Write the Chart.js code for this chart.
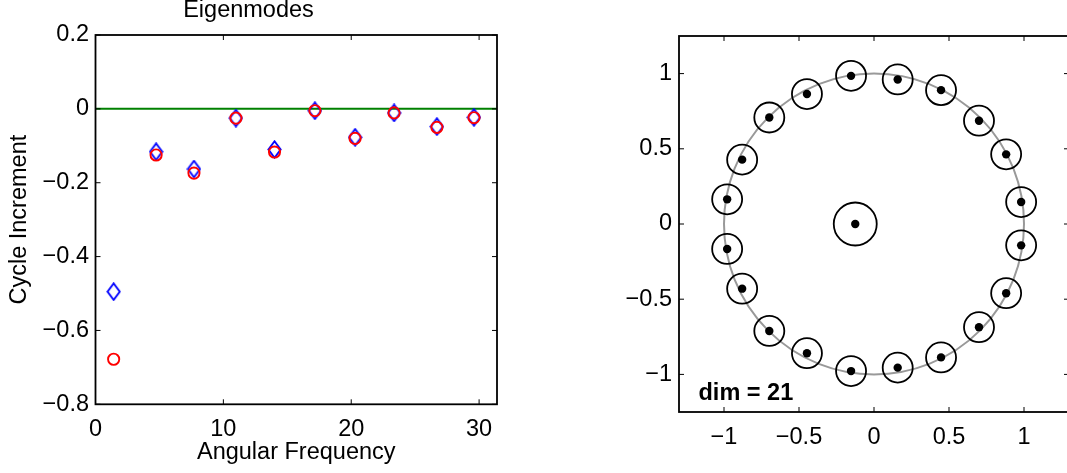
<!DOCTYPE html>
<html><head><meta charset="utf-8">
<script src="https://cdn.jsdelivr.net/npm/chart.js@4.4.0/dist/chart.umd.min.js"></script>
<style>
html,body{margin:0;padding:0;background:#fff;overflow:hidden;width:1067px;height:473px;position:relative;}
#c1{position:absolute;left:0;top:0;}
#c2{position:absolute;left:600px;top:0;}
</style></head><body>
<canvas id="c1" width="540" height="473"></canvas>
<canvas id="c2" width="470" height="473"></canvas>
<script>
// ---------- data ----------
const angularFrequency = [1.42, 4.74, 7.70, 10.98, 14.00, 17.16, 20.30, 23.35, 26.70, 29.60];
const cycleIncrementDiamond = [-0.495, -0.116, -0.163, -0.025, -0.110, -0.005, -0.077, -0.011, -0.048, -0.023];
const cycleIncrementCircle  = [-0.678, -0.125, -0.174, -0.025, -0.117, -0.005, -0.080, -0.011, -0.050, -0.024];
const leftXTicks = [0, 10, 20, 30];
const leftYTicks = [-0.8, -0.6, -0.4, -0.2, 0, 0.2];
const leftXRange = [0, 31.4];
const leftYRange = [-0.8, 0.2];

const eigReal = [-0.153, 0.158, 0.447, 0.700, 0.881, 0.981, 0.981, 0.881, 0.700, 0.447, 0.158, -0.153, -0.447, -0.698, -0.879, -0.979, -0.979, -0.879, -0.698, -0.447, -0.125];
const eigImag = [0.985, 0.961, 0.890, 0.687, 0.463, 0.146, -0.142, -0.460, -0.686, -0.887, -0.955, -0.978, -0.859, -0.711, -0.430, -0.166, 0.164, 0.428, 0.708, 0.864, 0.0];
const rightTicks = [-1, -0.5, 0, 0.5, 1];
const rightXRange = [-1.3, 1.3];
const rightYRange = [-1.25, 1.25];
const dimLabel = 'dim = 21';
const dimLabelPos = [-1.17, -1.17];

// ---------- helpers ----------
const FONT = "'Liberation Sans', Arial, Helvetica, sans-serif";
const FS = 23.5;
const fmt = v => (v < 0 ? '\u2212' : '') + String(Math.abs(Math.round(v * 1000) / 1000));
const fixTicks = arr => s => { s.ticks = arr.map(v => ({value: v})); };
const noPad = s => { s.paddingLeft = 0; s.paddingRight = 0; s.paddingTop = 0; s.paddingBottom = 0; };

const boxTicks = {
  id: 'boxTicks',
  afterDatasetsDraw(chart, args, opts) {
    const {ctx, chartArea: {left, right, top, bottom}, scales: {x, y}} = chart;
    const len = opts.len || 5;
    ctx.save();
    ctx.strokeStyle = '#000';
    ctx.lineWidth = 1;
    ctx.beginPath();
    x.ticks.forEach(t => {
      const px = x.getPixelForValue(t.value);
      ctx.moveTo(px, bottom); ctx.lineTo(px, bottom - len);
      ctx.moveTo(px, top); ctx.lineTo(px, top + len);
    });
    y.ticks.forEach(t => {
      const py = y.getPixelForValue(t.value);
      ctx.moveTo(left, py); ctx.lineTo(left + len, py);
      ctx.moveTo(right, py); ctx.lineTo(right - len, py);
    });
    ctx.stroke();
    ctx.lineWidth = 1.8;
    ctx.strokeRect(left, top, right - left, bottom - top);
    ctx.restore();
  }
};

function diamondImage() {
  const c = document.createElement('canvas');
  c.width = 15; c.height = 19;
  const g = c.getContext('2d');
  g.strokeStyle = '#0000ff'; g.lineWidth = 1.9;
  g.beginPath();
  g.moveTo(7.5, 1.3); g.lineTo(13.6, 9.5); g.lineTo(7.5, 17.7); g.lineTo(1.4, 9.5); g.closePath();
  g.stroke();
  return c;
}

function axisCfg(range, ticks, pad, opts) {
  return Object.assign({
    type: 'linear', min: range[0], max: range[1],
    afterBuildTicks: fixTicks(ticks),
    grid: {display: false, drawTicks: false},
    border: {display: false},
    ticks: {color: '#000', font: {family: FONT, size: FS}, callback: fmt, autoSkip: false, maxRotation: 0, padding: pad}
  }, opts);
}

// ---------- left chart ----------
new Chart(document.getElementById('c1'), {
  type: 'scatter',
  data: {
    datasets: [
      {
        label: 'circle',
        data: angularFrequency.map((x, i) => ({x, y: cycleIncrementCircle[i]})),
        pointStyle: 'circle', pointRadius: 5.6, borderWidth: 1.9,
        borderColor: '#ff0000', backgroundColor: 'rgba(0,0,0,0)'
      },
      {
        label: 'diamond',
        data: angularFrequency.map((x, i) => ({x, y: cycleIncrementDiamond[i]})),
        pointStyle: diamondImage(), pointRadius: 7,
        borderColor: '#0000ff', backgroundColor: 'rgba(0,0,0,0)'
      },
      {
        label: 'zero',
        type: 'line',
        data: [{x: leftXRange[0], y: 0}, {x: leftXRange[1], y: 0}],
        borderColor: '#008000', borderWidth: 2, pointRadius: 0, fill: false
      }
    ]
  },
  options: {
    responsive: false, animation: false, devicePixelRatio: 1,
    layout: {autoPadding: false, padding: {left: 0, right: 43, top: 0, bottom: 0}},
    plugins: {
      legend: {display: false}, tooltip: {enabled: false},
      title: {display: true, text: 'Eigenmodes', color: '#000',
        font: {family: FONT, size: FS, weight: 'normal', lineHeight: 1.2},
        padding: {top: -3.5, bottom: 10.3}},
      boxTicks: {len: 5}
    },
    scales: {
      x: axisCfg(leftXRange, leftXTicks, 11.5, {
        afterFit: s => { s.height = 68.7; noPad(s); },
        title: {display: true, text: 'Angular Frequency', color: '#000',
          font: {family: FONT, size: FS, lineHeight: 1.2}, padding: {top: 0, bottom: 6.5}}
      }),
      y: axisCfg(leftYRange, leftYTicks, 6.5, {
        afterFit: s => { s.width = 95.5; noPad(s); },
        title: {display: true, text: 'Cycle Increment', color: '#000',
          font: {family: FONT, size: FS, lineHeight: 1.2}, padding: {top: 5, bottom: 0}}
      })
    }
  },
  plugins: [boxTicks]
});
</script>
<script>
// ---------- right chart ----------
const unitCircle = {
  id: 'unitCircle',
  beforeDatasetsDraw(chart) {
    const {ctx, scales: {x, y}} = chart;
    const cx = x.getPixelForValue(0), cy = y.getPixelForValue(0);
    const rx = x.getPixelForValue(1) - cx, ry = cy - y.getPixelForValue(1);
    ctx.save();
    ctx.strokeStyle = '#999999'; ctx.lineWidth = 2;
    ctx.beginPath(); ctx.ellipse(cx, cy, rx, ry, 0, 0, Math.PI * 2); ctx.stroke();
    ctx.restore();
  },
  afterDatasetsDraw(chart) {
    const {ctx, scales: {x, y}} = chart;
    ctx.save();
    ctx.fillStyle = '#000';
    ctx.font = "bold " + FS + "px " + FONT;
    ctx.textAlign = 'left'; ctx.textBaseline = 'alphabetic';
    ctx.fillText(dimLabel, x.getPixelForValue(dimLabelPos[0]), y.getPixelForValue(dimLabelPos[1]));
    ctx.restore();
  }
};
const eigPoints = eigReal.map((x, i) => ({x, y: eigImag[i]}));
new Chart(document.getElementById('c2'), {
  type: 'scatter',
  data: {
    datasets: [
      {
        label: 'dots', data: eigPoints, pointStyle: 'circle', pointRadius: 4.2,
        borderWidth: 0, backgroundColor: '#000', borderColor: '#000'
      },
      {
        label: 'rings', data: eigPoints, pointStyle: 'circle',
        pointRadius: c => (Math.hypot(c.raw.x, c.raw.y) < 0.5 ? 21.5 : 15),
        borderWidth: 1.8, borderColor: '#000', backgroundColor: 'rgba(0,0,0,0)'
      }
    ]
  },
  options: {
    responsive: false, animation: false, devicePixelRatio: 1,
    layout: {autoPadding: false, padding: {left: 0, right: 1, top: 36, bottom: 0}},
    plugins: {legend: {display: false}, tooltip: {enabled: false}, boxTicks: {len: 5}},
    scales: {
      x: axisCfg(rightXRange, rightTicks, 11, {afterFit: s => { s.height = 61; noPad(s); }}),
      y: axisCfg(rightYRange, rightTicks, 7, {afterFit: s => { s.width = 79; noPad(s); }})
    }
  },
  plugins: [unitCircle, boxTicks]
});
</script>
</body></html>
